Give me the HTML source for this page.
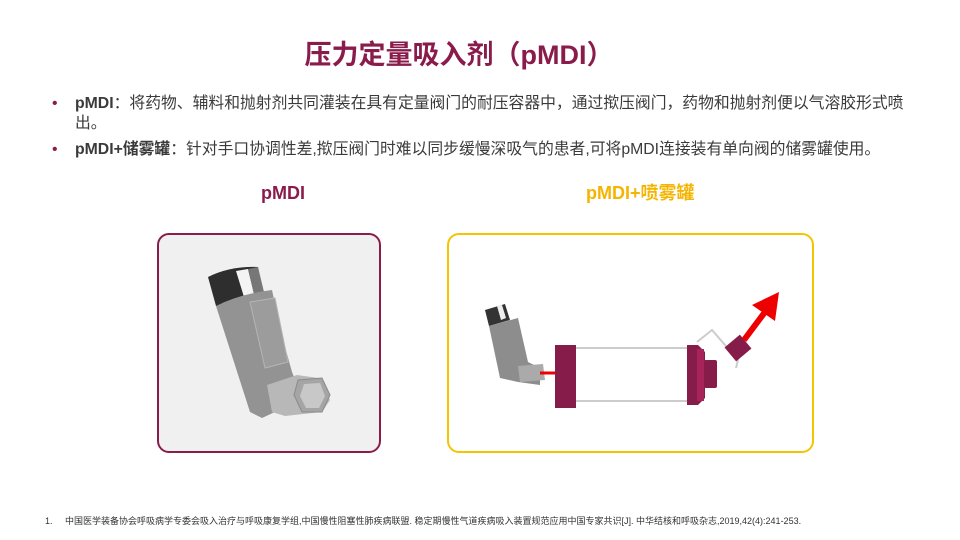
<!DOCTYPE html>
<html><head><meta charset="utf-8"><style>
body{margin:0;width:960px;height:540px;background:#fff;position:relative;overflow:hidden;font-family:"Liberation Sans","Noto Sans CJK SC",sans-serif;color:#333}
.t{position:absolute;left:0;width:918px;text-align:center;top:35px;font-size:27px;line-height:40px;font-weight:bold;color:#8a1c4c}
.b{position:absolute;left:75px;font-size:15.8px;line-height:20px;width:870px;white-space:nowrap;color:#3a3a3a}
.b:before{content:"•";position:absolute;left:-23px;color:#8a1c4c}
.lab{position:absolute;top:182px;font-size:18px;line-height:22px;font-weight:bold}
.box{position:absolute;top:233px;height:220px;border-radius:12px;box-sizing:border-box}
.fn{position:absolute;left:45px;top:514px;font-size:9px;color:#333}
</style></head><body>
<div class="t">压力定量吸入剂（pMDI）</div>
<div class="b" style="top:94px"><b>pMDI</b>：将药物、辅料和抛射剂共同灌装在具有定量阀门的耐压容器中，通过揿压阀门，药物和抛射剂便以气溶胶形式喷<br>出。</div>
<div class="b" style="top:140px"><b>pMDI+储雾罐</b>：针对手口协调性差,揿压阀门时难以同步缓慢深吸气的患者,可将pMDI连接装有单向阀的储雾罐使用。</div>
<div class="lab" style="left:261px;color:#8a1c4c">pMDI</div>
<div class="lab" style="left:586px;color:#f5b400">pMDI+喷雾罐</div>
<div class="box" style="left:157px;width:224px;border:2px solid #8a1c4c;background:#f0f0f0"></div>
<div class="box" style="left:447px;width:367px;border:2px solid #f5c400;background:#fff"></div>
<svg width="960" height="540" style="position:absolute;left:0;top:0">
<g>
<path d="M208,277 Q230,266 258,267 L262,290 Q240,300 216,306 Z" fill="#2e2e2e"/>
<path d="M236,271 L248,269 L254,294 L244,297 Z" fill="#f4f4f4"/>
<path d="M248,269 L258,267 L264,292 L254,294 Z" fill="#777"/>
<path d="M216,306 Q240,294 272,290 Q280,330 292,372 L296,382 L290,405 L262,418 L250,412 Z" fill="#939393"/>
<path d="M250,302 L275,298 L288,362 L265,368 Z" fill="#9c9c9c" stroke="#b5b5b5"/>
<path d="M267,385 L297,375 L318,378 L330,400 L322,412 L285,416 L272,412 Z" fill="#b8b8b8"/>
<path d="M298,380 L322,378 L330,395 L322,412 L302,412 L294,395 Z" fill="#a5a5a5" stroke="#8a8a8a"/>
<path d="M304,384 L320,383 L325,396 L319,408 L306,408 L300,396 Z" fill="#c8c8c8"/>
</g>
<g>
<path d="M485,310 L505,304 L510,320 L489,326 Z" fill="#333"/>
<path d="M497,306 L502,305 L506,318 L501,320 Z" fill="#eee"/>
<path d="M489,326 L518,318 L528,362 L540,368 L540,385 L518,382 L500,378 Z" fill="#8d8d8d"/>
<path d="M518,366 L543,364 L545,380 L520,382 Z" fill="#aaa"/>
</g>
<line x1="540" y1="373" x2="560" y2="373" stroke="#e00" stroke-width="3"/>
<polygon points="558,367 571,373 558,379" fill="#e00"/>
<rect x="555" y="345" width="21" height="63" fill="#861c4a"/>
<line x1="576" y1="348" x2="688" y2="348" stroke="#ccc" stroke-width="2"/>
<line x1="576" y1="401" x2="688" y2="401" stroke="#ccc" stroke-width="2"/>
<path d="M687,345 L698,345 L705,352 L705,398 L698,405 L687,405 Z" fill="#861c4a"/>
<rect x="697" y="349" width="7" height="52" fill="#a8235a"/>
<rect x="704" y="360" width="13" height="28" rx="2" fill="#861c4a"/>
<path d="M697,342 L712,330 L738,360 L736,368" fill="none" stroke="#ccc" stroke-width="2"/>
<g transform="translate(738,348) rotate(-40)"><rect x="-10" y="-9" width="20" height="18" fill="#861c4a"/></g>
<line x1="744" y1="340" x2="768" y2="308" stroke="#e00" stroke-width="6"/>
<polygon points="752,305 779,292 775,321" fill="#e00"/>
</svg>
<div class="fn">1.&nbsp;&nbsp;&nbsp;&nbsp;&nbsp;中国医学装备协会呼吸病学专委会吸入治疗与呼吸康复学组,中国慢性阻塞性肺疾病联盟. 稳定期慢性气道疾病吸入装置规范应用中国专家共识[J]. 中华结核和呼吸杂志,2019,42(4):241-253.</div>
</body></html>
